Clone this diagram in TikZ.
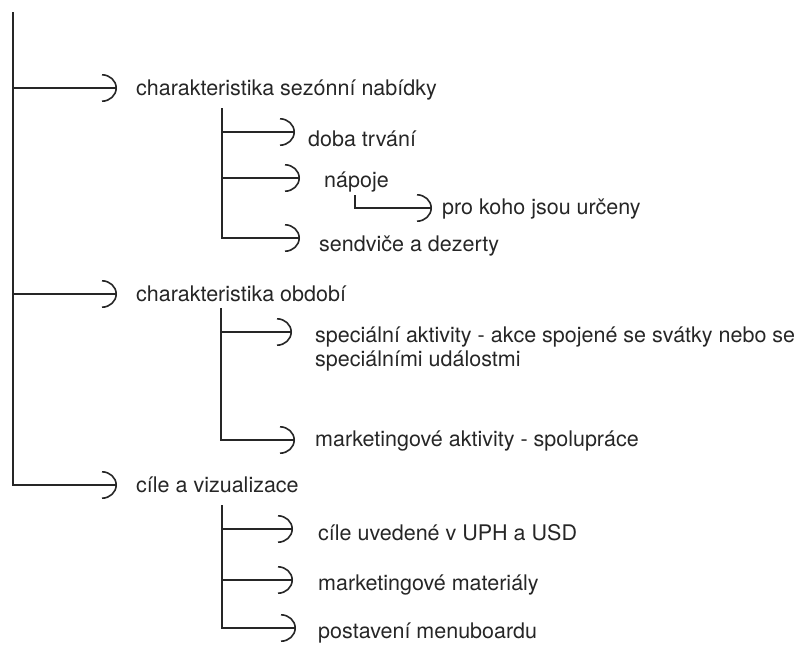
\documentclass[tikz,border=0pt]{standalone}
\usepackage{fontspec}
\setmainfont{TeX Gyre Heros}
\usetikzlibrary{arrows.meta,positioning}
\tikzset{
  >={Arc Barb[length=15pt,width=28pt]},
  % strom
  br/.style={->,draw=black!85,line width=1.6pt,shorten >=#1},
  br/.default=15pt,
  lbl/.style={anchor=base west,inner sep=0pt,text=black!85,
              font=\fontsize{21.5}{24}\selectfont},
}
\begin{document}
\begin{tikzpicture}[x=1pt,y=-1pt]
  \useasboundingbox (0,0) rectangle (806,646);
  % hlavni osa
  \coordinate (h0) at (13,12);   \coordinate (h1) at (13,88);
  \coordinate (h2) at (13,294);  \coordinate (h3) at (13,485);
  \node[lbl] (sez) at (136,95) {charakteristika sezónní nabídky};
  \node[lbl] (obd) at (136,301) {charakteristika období};
  \node[lbl] (cil) at (136,492) {cíle a vizualizace};
  \draw[br=19pt] (h1) -- (h1 -| sez.west);
  \draw[br=19pt] (h2) -- (h2 -| obd.west);
  \draw[br=19pt] (h0) -- (h3) -- (h3 -| cil.west);
  % sezonni nabidka
  \coordinate (a0) at (222,108); \coordinate (a1) at (222,132);
  \coordinate (a2) at (222,178); \coordinate (a3) at (222,238);
  \node[lbl] (doba) at (308,146) {doba trvání};
  \node[lbl] (nap) at (324,187) {nápoje};
  \node[lbl] (kdo) at (442,214) {pro koho jsou určeny};
  \node[lbl] (sen) at (319,251) {sendviče a dezerty};
  \draw[br=13pt] (a1) -- (a1 -| doba.west);
  \draw[br=24pt] (a2) -- (a2 -| nap.west);
  \draw[br=19pt] (a0) -- (a3) -- (a3 -| sen.west);
  \coordinate (n0) at (355,195); \coordinate (n1) at (355,208);
  \draw[br=10pt] (n0) -- (n1) -- (n1 -| kdo.west);
  % obdobi
  \coordinate (b0) at (221,308); \coordinate (b1) at (221,332);
  \coordinate (b2) at (221,440);
  \node[lbl,align=left,anchor=north west] (akc) at (315,327) {speciální aktivity - akce spojené se svátky nebo se\\speciálními událostmi};
  \node[lbl] (spo) at (315,446) {marketingové aktivity - spolupráce};
  \draw[br=23pt] (b1) -- (b1 -| akc.west);
  \draw[br=20pt] (b0) -- (b2) -- (b2 -| spo.west);
  % cile
  \coordinate (c0) at (222,505); \coordinate (c1) at (222,529);
  \coordinate (c2) at (222,580); \coordinate (c3) at (222,628);
  \node[lbl] (uph) at (318,540) {cíle uvedené v UPH a USD};
  \node[lbl] (mat) at (318,590) {marketingové materiály};
  \node[lbl] (menu) at (318,638) {postavení menuboardu};
  \draw[br=25pt] (c1) -- (c1 -| uph.west);
  \draw[br=25pt] (c2) -- (c2 -| mat.west);
  \draw[br=22pt] (c0) -- (c3) -- (c3 -| menu.west);
\end{tikzpicture}
\end{document}
